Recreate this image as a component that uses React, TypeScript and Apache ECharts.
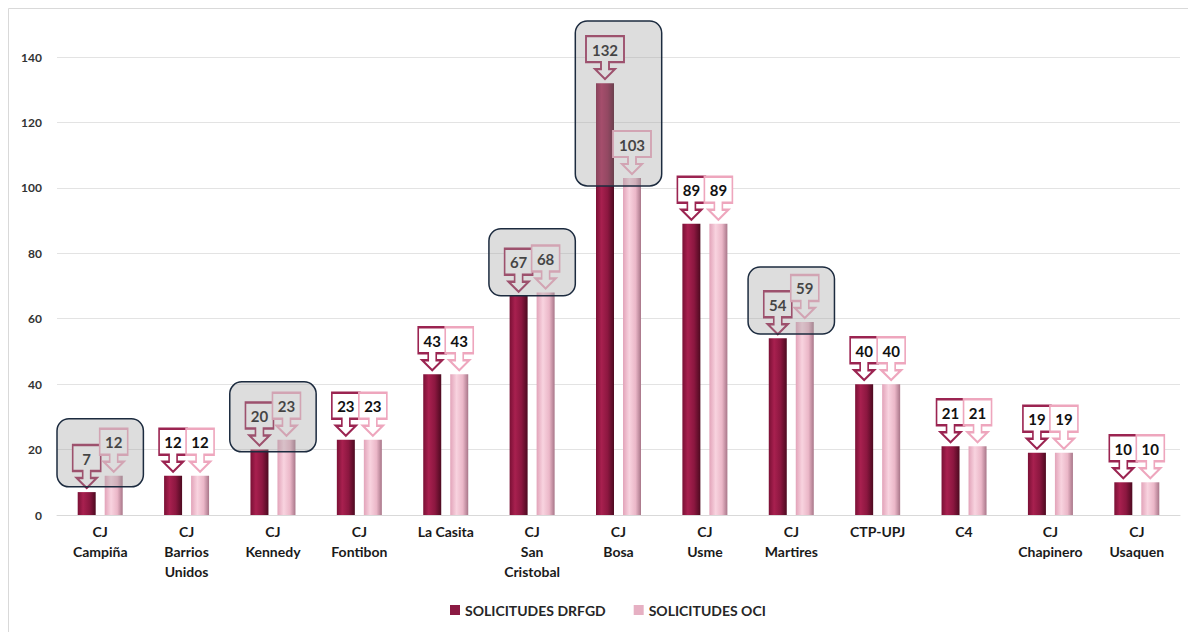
import React, { useEffect, useRef } from "react";
import * as echarts from "echarts";

const categories = [
  "CJ\nCampiña",
  "CJ\nBarrios\nUnidos",
  "CJ\nKennedy",
  "CJ\nFontibon",
  "La Casita",
  "CJ\nSan\nCristobal",
  "CJ\nBosa",
  "CJ\nUsme",
  "CJ\nMartires",
  "CTP-UPJ",
  "C4",
  "CJ\nChapinero",
  "CJ\nUsaquen",
];
const drfgd = [7, 12, 20, 23, 43, 67, 132, 89, 54, 40, 21, 19, 10];
const oci = [12, 12, 23, 23, 43, 68, 103, 89, 59, 40, 21, 19, 10];
const seriesNames = ["SOLICITUDES DRFGD", "SOLICITUDES OCI"];
const yTicks = { min: 0, max: 140, interval: 20 };
// highlighted categories: [categoryIndex, lowValue, highValue]
const highlights: [number, number, number][] = [
  [0, 8.6, 29.4],
  [2, 19.3, 40.7],
  [5, 67, 87.5],
  [6, 100.6, 151],
  [8, 55.3, 75.8],
];

const FONT = "Lato";

function calloutPath(w: number) {
  const c = w / 2;
  return (
    "path://M0,0 L" + w + ",0 L" + w + ",26 L" + (c + 4) + ",26 L" + (c + 4) + ",33 L" + (c + 10) +
    ",33 L" + c + ",43 L" + (c - 10) + ",33 L" + (c - 4) + ",33 L" + (c - 4) + ",26 L0,26 Z"
  );
}

function markPoints(values: number[], border: string) {
  return {
    silent: true,
    data: values.map((v, i) => {
      const w = String(v).length >= 3 ? 38 : 28;
      return {
        coord: [i, v],
        value: v,
        symbol: calloutPath(w),
        symbolSize: [w, 43],
        symbolOffset: [0, -25.5],
        symbolKeepAspect: false,
      };
    }),
    itemStyle: { color: "#ffffff", borderColor: border, borderWidth: 2 },
    label: {
      show: true,
      position: "inside",
      offset: [0, -8],
      formatter: "{c}",
      color: "#111111",
      fontFamily: FONT,
      fontWeight: "bold",
      fontSize: 15,
    },
  };
}

export default function App() {
  const ref = useRef<HTMLDivElement>(null);
  useEffect(() => {
    if (!ref.current) return;
    const chart = echarts.init(ref.current, null, { renderer: "svg" });
    const darkGrad = new echarts.graphic.LinearGradient(0, 0, 1, 0, [
      { offset: 0, color: "#7a1035" },
      { offset: 0.3, color: "#a8204f" },
      { offset: 0.65, color: "#8c1740" },
      { offset: 1, color: "#4d0a20" },
    ]);
    const lightGrad = new echarts.graphic.LinearGradient(0, 0, 1, 0, [
      { offset: 0, color: "#e2a3b9" },
      { offset: 0.35, color: "#f8d3df" },
      { offset: 0.7, color: "#ebb7c8" },
      { offset: 1, color: "#a87689" },
    ]);
    const gridLeft = 57;
    const gridRight = 8;
    chart.setOption({
      animation: false,
      grid: { left: gridLeft, right: gridRight, top: 57, bottom: 117 },
      legend: {
        bottom: 10,
        left: 445,
        itemWidth: 10,
        itemHeight: 10,
        itemGap: 28,
        icon: "rect",
        data: [
          { name: seriesNames[0], itemStyle: { color: "#8b1a43" } },
          { name: seriesNames[1], itemStyle: { color: "#e6b0c3" } },
        ],
        textStyle: { fontFamily: FONT, fontWeight: "bold", fontSize: 14, color: "#262626" },
      },
      xAxis: {
        type: "category",
        data: categories,
        axisLine: { lineStyle: { color: "#d9d9d9" } },
        axisTick: { show: false },
        axisLabel: {
          interval: 0,
          margin: 6,
          lineHeight: 20,
          fontFamily: FONT,
          fontWeight: "bold",
          fontSize: 14,
          color: "#1a1a1a",
        },
      },
      yAxis: {
        type: "value",
        min: yTicks.min,
        max: yTicks.max,
        interval: yTicks.interval,
        axisLine: { show: false },
        axisTick: { show: false },
        splitLine: { lineStyle: { color: "#e3e3e3" } },
        axisLabel: {
          margin: 15,
          fontFamily: FONT,
          fontWeight: "bold",
          fontSize: 12,
          color: "#333333",
        },
      },
      series: [
        {
          name: seriesNames[0],
          type: "bar",
          data: drfgd,
          barWidth: 18,
          barGap: "50%",
          itemStyle: { color: darkGrad },
          markPoint: markPoints(drfgd, "#9b2451"),
        },
        {
          name: seriesNames[1],
          type: "bar",
          data: oci,
          barWidth: 18,
          barGap: "50%",
          itemStyle: { color: lightGrad },
          markPoint: markPoints(oci, "#eea6bd"),
        },
      ],
    });

    const totalW = 1188 - gridLeft - gridRight;
    const band = totalW / categories.length;
    const rects = highlights.map(([ci, lo, hi]) => {
      const pHi = chart.convertToPixel({ gridIndex: 0 }, [ci, hi]) as number[];
      const pLo = chart.convertToPixel({ gridIndex: 0 }, [ci, lo]) as number[];
      return {
        type: "rect",
        z: 100,
        silent: true,
        shape: {
          x: pHi[0] - band / 2,
          y: pHi[1],
          width: band,
          height: pLo[1] - pHi[1],
          r: 12,
        },
        style: {
          fill: "rgba(160,160,160,0.36)",
          stroke: "#1c2b3f",
          lineWidth: 1.5,
        },
      };
    });
    chart.setOption({
      graphic: [
        {
          type: "rect",
          z: -10,
          silent: true,
          shape: { x: 8.5, y: 8.5, width: 1200, height: 640 },
          style: { fill: "none", stroke: "#d9d9d9", lineWidth: 1 },
        },
        ...rects,
      ],
    });
    return () => chart.dispose();
  }, []);
  return (
    <div
      ref={ref}
      style={{ position: "absolute", left: 0, top: 0, width: 1188, height: 632, background: "#fff" }}
    />
  );
}
